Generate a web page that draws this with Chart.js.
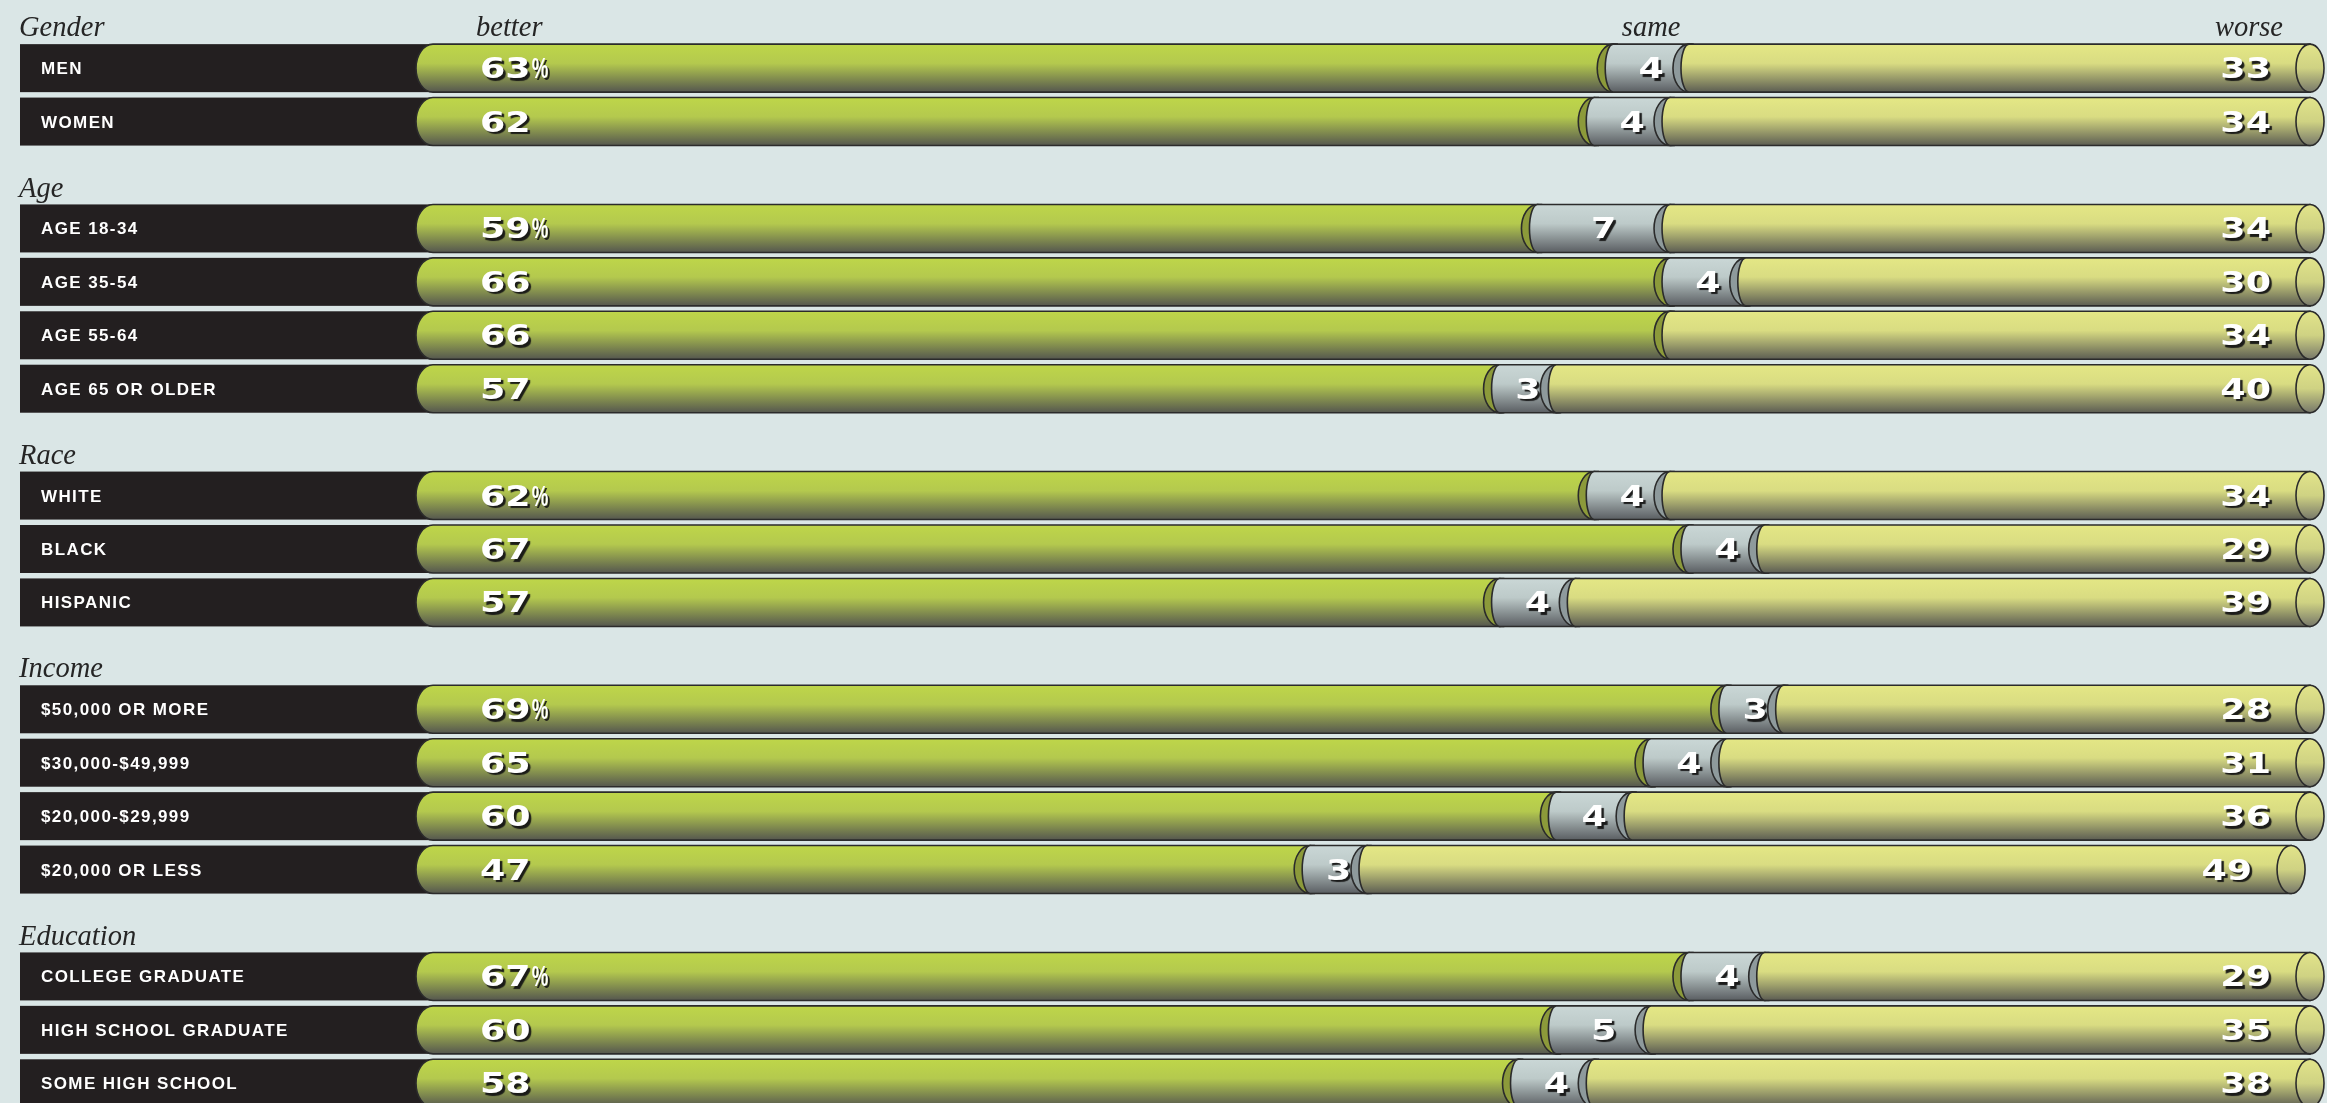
<!DOCTYPE html>
<html>
<head>
<meta charset="utf-8">
<title>Better, same or worse</title>
<script src="https://cdn.jsdelivr.net/npm/chart.js@4.4.1/dist/chart.umd.min.js"></script>
<style>
  html, body { margin: 0; padding: 0; background: #dae6e6; overflow: hidden; }
  #wrap { position: relative; width: 2327px; height: 1103px; overflow: hidden; }
  #chart { position: absolute; left: 0; top: -12px; }
</style>
</head>
<body>
<div id="wrap"><canvas id="chart" width="2327" height="1124"></canvas></div>
<script>
const groups = ['Gender', 'Age', 'Race', 'Income', 'Education'];
const groupSizes = [2, 4, 3, 4, 3];
const rowLabels = [
    'MEN', 'WOMEN',
    'AGE 18-34', 'AGE 35-54', 'AGE 55-64', 'AGE 65 OR OLDER',
    'WHITE', 'BLACK', 'HISPANIC',
    '$50,000 OR MORE', '$30,000-$49,999', '$20,000-$29,999', '$20,000 OR LESS',
    'COLLEGE GRADUATE', 'HIGH SCHOOL GRADUATE', 'SOME HIGH SCHOOL'
];
const better = [63, 62, 59, 66, 66, 57, 62, 67, 57, 69, 65, 60, 47, 67, 60, 58];
const same = [4, 4, 7, 4, 0, 3, 4, 4, 4, 3, 4, 4, 3, 4, 5, 4];
const worse = [33, 34, 34, 30, 34, 40, 34, 29, 39, 28, 31, 36, 49, 29, 35, 38];
const columnTitles = ['better', 'same', 'worse'];

// one slot per group title, then one per row
const slots = [];
let r = 0;
groups.forEach((g, gi) => {
    slots.push({ header: g });
    for (let k = 0; k < groupSizes[gi]; k++) {
        slots.push({ row: r, first: k === 0 });
        r++;
    }
});
const slotLabels = slots.map(s => s.header !== undefined ? s.header : rowLabels[s.row]);
const pick = arr => slots.map(s => s.header !== undefined ? null : arr[s.row]);

const BAR_H = 48;
const INK = '#2b2b2b';
const fills = {
    better: [[0, '#bed649'], [0.4, '#b4c94e'], [1, '#55574f']],
    same: [[0, '#cad7d6'], [0.4, '#bdcac9'], [1, '#5a5e62']],
    worse: [[0, '#e4e785'], [0.4, '#d9dc82'], [1, '#5c5d53']]
};
const rims = { better: '#8c9a3a', same: '#8e9a9c' };
const capFill = [[0, '#e2e48a'], [0.5, '#cfd283'], [1, '#77786a']];

function vGrad(ctx, top, bot, stops) {
    const g = ctx.createLinearGradient(0, top, 0, bot);
    stops.forEach(([o, c]) => g.addColorStop(o, c));
    return g;
}

// body with a half-ellipse on the left, centred on `left`
function segmentPath(ctx, left, right, y, h, rx) {
    ctx.beginPath();
    ctx.moveTo(left, y - h / 2);
    ctx.lineTo(right, y - h / 2);
    ctx.lineTo(right, y + h / 2);
    ctx.lineTo(left, y + h / 2);
    ctx.ellipse(left, y, rx, h / 2, 0, Math.PI / 2, Math.PI * 1.5);
    ctx.closePath();
}

function drawSegment(ctx, kind, left, right, y, h, rx) {
    segmentPath(ctx, left, right, y, h, rx);
    ctx.fillStyle = vGrad(ctx, y - h / 2, y + h / 2, fills[kind]);
    ctx.fill();
    ctx.lineWidth = 1.6;
    ctx.strokeStyle = INK;
    ctx.stroke();
}

function drawRim(ctx, kind, cx, y, h) {
    ctx.beginPath();
    ctx.ellipse(cx, y, 16, h / 2, 0, 0, Math.PI * 2);
    ctx.fillStyle = rims[kind];
    ctx.fill();
    ctx.lineWidth = 1.6;
    ctx.strokeStyle = INK;
    ctx.stroke();
}

function drawCap(ctx, cx, y, h) {
    ctx.beginPath();
    ctx.ellipse(cx, y, 14, h / 2, 0, 0, Math.PI * 2);
    ctx.fillStyle = vGrad(ctx, y - h / 2, y + h / 2, capFill);
    ctx.fill();
    ctx.lineWidth = 1.6;
    ctx.strokeStyle = INK;
    ctx.stroke();
}

// white extended numerals with a dark drop shadow
function drawValue(ctx, text, x, y, align, pct) {
    ctx.save();
    ctx.font = 'bold 28px "DejaVu Sans"';
    ctx.textBaseline = 'alphabetic';
    ctx.shadowColor = 'rgba(20,20,20,0.95)';
    ctx.shadowOffsetX = 2.5;
    ctx.shadowOffsetY = 2.5;
    ctx.shadowBlur = 1;
    ctx.fillStyle = '#ffffff';
    const w = ctx.measureText(text).width * 1.3;
    let left = x;
    if (align === 'center') left = x - w / 2;
    if (align === 'right') left = x - w;
    ctx.translate(left, y + 10);
    ctx.scale(1.3, 1);
    ctx.textAlign = 'left';
    ctx.fillText(text, 0, 0);
    ctx.restore();
    if (pct) {
        ctx.save();
        ctx.font = 'bold 30px "Liberation Sans"';
        ctx.shadowColor = 'rgba(20,20,20,0.9)';
        ctx.shadowOffsetX = 2;
        ctx.shadowOffsetY = 2;
        ctx.fillStyle = '#ffffff';
        ctx.translate(left + w + 1, y + 10);
        ctx.scale(0.62, 1);
        ctx.fillText('%', 0, 0);
        ctx.restore();
    }
}

function drawTitle(ctx, text, x, y, align) {
    ctx.save();
    ctx.font = 'italic 30px "Liberation Serif"';
    ctx.fillStyle = '#252525';
    ctx.textBaseline = 'alphabetic';
    const w = ctx.measureText(text).width * 0.95;
    let left = x;
    if (align === 'center') left = x - w / 2;
    if (align === 'right') left = x - w;
    ctx.translate(left, y);
    ctx.scale(0.95, 1);
    ctx.fillText(text, 0, 0);
    ctx.restore();
}

const tubePlugin = {
    id: 'tubes',
    beforeDatasetsDraw(chart) {
        const ctx = chart.ctx;
        const yScale = chart.scales.y;
        const x0 = chart.scales.x.getPixelForValue(0);
        ctx.save();
        slots.forEach((s, i) => {
            const y = yScale.getPixelForValue(i);
            if (s.header !== undefined) {
                drawTitle(ctx, s.header, 19, y + 21.5, 'left');
                return;
            }
            ctx.fillStyle = '#231f20';
            ctx.fillRect(20, y - BAR_H / 2, x0 + 30 - 20, BAR_H);
            ctx.font = 'bold 17px "Liberation Sans"';
            ctx.letterSpacing = '1.4px';
            ctx.fillStyle = '#ffffff';
            ctx.textBaseline = 'alphabetic';
            ctx.fillText(rowLabels[s.row], 41, y + 6);
            ctx.letterSpacing = '0px';
        });
        ctx.restore();
    },
    afterDatasetsDraw(chart) {
        const ctx = chart.ctx;
        const [mb, ms, mw] = [0, 1, 2].map(d => chart.getDatasetMeta(d));
        ctx.save();
        slots.forEach((s, i) => {
            if (s.header !== undefined) return;
            const gEl = mb.data[i], sEl = ms.data[i], wEl = mw.data[i];
            const y = gEl.y, h = gEl.height;
            const x0 = gEl.base, x1 = gEl.x, x2 = sEl.x, x3 = wEl.x;
            const hasSame = same[s.row] > 0;

            drawSegment(ctx, 'better', x0 + 17, x1 + 8, y, h, 17);
            drawRim(ctx, 'better', x1 + 4, y, h);
            if (hasSame) {
                drawSegment(ctx, 'same', x1 + 4, x2 + 8, y, h, 8);
                drawRim(ctx, 'same', x2 + 4, y, h);
            }
            drawSegment(ctx, 'worse', x2 + 4, x3, y, h, 8);
            drawCap(ctx, x3, y, h);

            drawValue(ctx, String(better[s.row]), x0 + 64, y, 'left', s.first);
            if (hasSame) drawValue(ctx, String(same[s.row]), (x1 + x2) / 2 + 4, y, 'center', false);
            drawValue(ctx, String(worse[s.row]), x3 - 39, y, 'right', false);
        });

        // column titles above the first group
        const yScale = chart.scales.y;
        const ty = yScale.getPixelForValue(0) + 21.5;
        const r0 = slots.findIndex(s => s.header === undefined);
        const xs = chart.scales.x;
        drawTitle(ctx, columnTitles[0], xs.getPixelForValue(0) + 60, ty, 'left');
        drawTitle(ctx, columnTitles[1], (mb.data[r0].x + ms.data[r0].x) / 2 + 4, ty, 'center');
        drawTitle(ctx, columnTitles[2], mw.data[r0].x - 27, ty, 'right');
        ctx.restore();
    }
};

function loadGraph() {
    const base = { backgroundColor: 'rgba(0,0,0,0)', borderWidth: 0, barThickness: BAR_H };
    const config = {
        type: 'bar',
        data: {
            labels: slotLabels,
            datasets: [
                Object.assign({ label: columnTitles[0], data: pick(better) }, base),
                Object.assign({ label: columnTitles[1], data: pick(same) }, base),
                Object.assign({ label: columnTitles[2], data: pick(worse) }, base)
            ]
        },
        options: {
            indexAxis: 'y',
            responsive: false,
            animation: false,
            layout: { padding: { left: 416, right: 17, top: 0, bottom: 2 } },
            scales: {
                x: { stacked: true, min: 0, max: 100, display: false },
                y: { stacked: true, display: false }
            },
            plugins: {
                legend: { display: false },
                tooltip: { enabled: false }
            }
        },
        plugins: [tubePlugin]
    };
    new Chart(document.getElementById('chart').getContext('2d'), config);
}

document.addEventListener('DOMContentLoaded', loadGraph);
</script>
</body>
</html>
